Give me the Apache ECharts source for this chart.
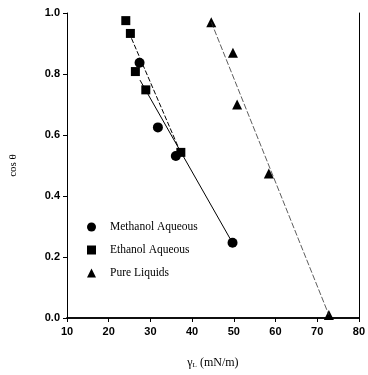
<!DOCTYPE html>
<html><head><meta charset="utf-8">
<script src="https://cdn.jsdelivr.net/npm/echarts@6/dist/echarts.min.js"></script>
<style>html,body{margin:0;padding:0;background:#fff}#c{width:368px;height:375px}</style>
</head><body><div id="c"></div>
<script>
// Data
var methanolX = [27.4, 31.8, 36.1, 49.7];
var methanolY = [0.837, 0.625, 0.531, 0.247];
var ethanolX = [24.1, 25.2, 26.4, 28.9, 37.3];
var ethanolY = [0.975, 0.933, 0.808, 0.748, 0.543];
var pureX = [44.6, 49.8, 50.8, 58.4, 72.8];
var pureY = [0.97, 0.87, 0.70, 0.474, 0.01];
// fitted line endpoints
var methanolFitX = [27.5, 49.7];
var methanolFitY = [0.78, 0.246];
var ethanolFitX = [24.8, 37.2];
var ethanolFitY = [0.938, 0.544];
var pureFitX = [44.6, 72.8];
var pureFitY = [0.97, 0.01];
var xTicks = [10, 20, 30, 40, 50, 60, 70, 80];
var yTicks = [0.0, 0.2, 0.4, 0.6, 0.8, 1.0];

function zip(a, b) { return a.map(function (v, i) { return [v, b[i]]; }); }

var chart = echarts.init(document.getElementById('c'));
var axisFont = { fontFamily: 'Liberation Sans', fontSize: 11, color: '#000', fontWeight: 'bold' };
chart.setOption({
  animation: false,
  grid: { left: 62, right: 8, top: 13, bottom: 57, show: false },
  legend: {
    orient: 'vertical', left: 87, top: 221, itemGap: 11, padding: 0,
    itemWidth: 9, itemHeight: 9,
    textStyle: { fontFamily: 'Liberation Serif', fontSize: 11.5, color: '#000', padding: [0, 0, 0, 9] },
    data: [
      { name: 'Methanol Aqueous', icon: 'circle' },
      { name: 'Ethanol Aqueous', icon: 'rect' },
      { name: 'Pure Liquids', icon: 'triangle' }
    ]
  },
  xAxis: [{
    type: 'value', min: 10, max: 80, interval: 10,
    axisLine: { lineStyle: { color: '#000', width: 1.5 } },
    axisTick: { show: true, length: 4, lineStyle: { color: '#000' } },
    splitLine: { show: false },
    axisLabel: Object.assign({ margin: 8, formatter: function (v) { return xTicks.indexOf(v) >= 0 ? String(v) : ''; } }, axisFont),
    name: 'γ{s|L} (mN/m)', nameLocation: 'middle', nameGap: 38,
    nameTextStyle: { fontFamily: 'Liberation Serif', fontSize: 12, color: '#000',
      rich: { s: { fontSize: 7, verticalAlign: 'bottom', padding: [6, 0, 0, 0], fontFamily: 'Liberation Serif' } } }
  }, {
    type: 'value', min: 10, max: 80, position: 'top',
    axisLine: { show: true, lineStyle: { color: '#000', width: 1.5 } },
    axisTick: { show: false }, axisLabel: { show: false }, splitLine: { show: false }
  }],
  yAxis: [{
    type: 'value', min: 0, max: 1, interval: 0.2,
    axisLine: { show: true, lineStyle: { color: '#000', width: 1 } },
    axisTick: { show: true, length: 4, lineStyle: { color: '#000' } },
    splitLine: { show: false },
    axisLabel: Object.assign({ margin: 7, formatter: function (v) { return v.toFixed(1); } }, axisFont),
    name: 'cos θ', nameLocation: 'middle', nameGap: 48, nameRotate: 90,
    nameTextStyle: { fontFamily: 'Liberation Serif', fontSize: 11, color: '#000' }
  }, {
    type: 'value', min: 0, max: 1, position: 'right',
    axisLine: { show: true, lineStyle: { color: '#000', width: 1 } },
    axisTick: { show: false }, axisLabel: { show: false }, splitLine: { show: false }
  }],
  series: [
    { name: 'Methanol Aqueous', type: 'scatter', symbol: 'circle', symbolSize: 10,
      itemStyle: { color: '#000', opacity: 1 }, data: zip(methanolX, methanolY) },
    { name: 'Ethanol Aqueous', type: 'scatter', symbol: 'rect', symbolSize: 9,
      itemStyle: { color: '#000', opacity: 1 }, data: zip(ethanolX, ethanolY) },
    { name: 'Pure Liquids', type: 'scatter', symbol: 'triangle', symbolSize: 10,
      itemStyle: { color: '#000', opacity: 1 }, data: zip(pureX, pureY) },
    { name: 'mfit', type: 'line', symbol: 'none', silent: true,
      lineStyle: { color: '#000', width: 1 }, data: zip(methanolFitX, methanolFitY) },
    { name: 'efit', type: 'line', symbol: 'none', silent: true,
      lineStyle: { color: '#000', width: 1, type: [5, 2] }, data: zip(ethanolFitX, ethanolFitY) },
    { name: 'pfit', type: 'line', symbol: 'none', silent: true,
      lineStyle: { color: '#333', width: 0.8, type: [6, 2] }, data: zip(pureFitX, pureFitY) }
  ]
});
</script></body></html>
